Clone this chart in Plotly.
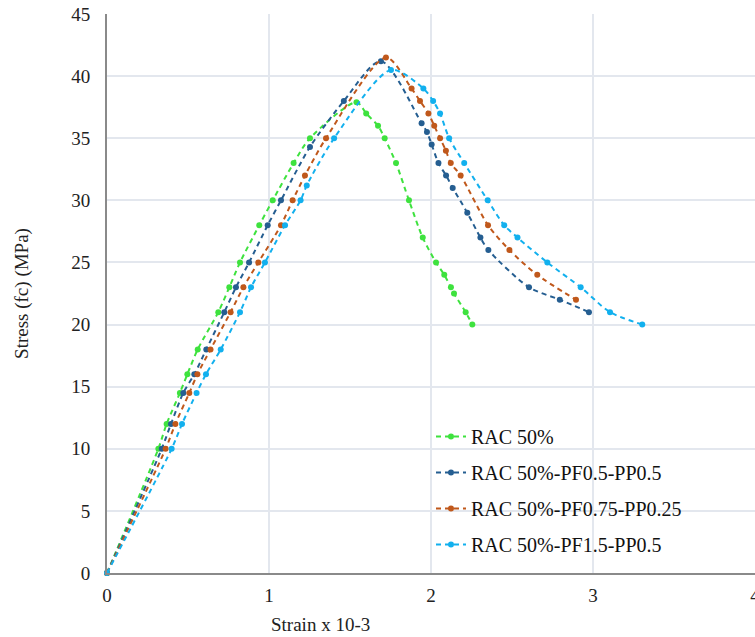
import plotly.graph_objects as go

# ---- data (strain x10^-3, stress MPa) ----
names = ["RAC 50%", "RAC 50%-PF0.5-PP0.5", "RAC 50%-PF0.75-PP0.25", "RAC 50%-PF1.5-PP0.5"]

strain_rac = [0, 0.317, 0.368, 0.45, 0.496, 0.56, 0.687, 0.755, 0.821, 0.94, 1.023, 1.152, 1.253,
              1.54, 1.60, 1.673, 1.714, 1.784, 1.864, 1.949, 2.031, 2.082, 2.123, 2.142, 2.214, 2.255]
stress_rac = [0, 10, 12, 14.5, 16, 18, 21, 23, 25, 28, 30, 33, 35,
              37.9, 37, 36, 35, 33, 30, 27, 25, 24, 23, 22.5, 21, 20]

strain_pf05 = [0, 0.338, 0.395, 0.471, 0.539, 0.613, 0.724, 0.796, 0.877, 0.992, 1.074, 1.253, 1.462,
               1.691, 1.942, 1.975, 2.004, 2.046, 2.093, 2.134, 2.224, 2.305, 2.354, 2.605, 2.795, 2.975]
stress_pf05 = [0, 10, 12, 14.5, 16, 18, 21, 23, 25, 28, 30, 34.3, 38,
               41.2, 36.2, 35.5, 34.5, 33, 32, 31, 29, 27, 26, 23, 22, 21]

strain_pf075 = [0, 0.362, 0.422, 0.508, 0.558, 0.639, 0.763, 0.842, 0.934, 1.074, 1.146, 1.222, 1.352,
                1.722, 1.88, 1.932, 1.984, 2.02, 2.056, 2.092, 2.122, 2.183, 2.352, 2.484, 2.656, 2.895]
stress_pf075 = [0, 10, 12, 14.5, 16, 18, 21, 23, 25, 28, 30, 32, 35,
                41.5, 39, 38, 37, 36, 35, 34, 33, 32, 28, 26, 24, 22]

strain_pf15 = [0, 0.399, 0.463, 0.553, 0.611, 0.702, 0.821, 0.889, 0.975, 1.099, 1.195, 1.233, 1.402,
               1.753, 1.953, 2.013, 2.056, 2.112, 2.205, 2.35, 2.452, 2.534, 2.718, 2.924, 3.105, 3.304]
stress_pf15 = [0, 10, 12, 14.5, 16, 18, 21, 23, 25, 28, 30, 31.2, 35,
               40.5, 39, 38, 37, 35, 33, 30, 28, 27, 25, 23, 21, 20]

colors = ["#3ee23e", "#255e91", "#c0581b", "#12b0ee"]

xs = [strain_rac, strain_pf05, strain_pf075, strain_pf15]
ys = [stress_rac, stress_pf05, stress_pf075, stress_pf15]

x_ticks = [0, 1, 2, 3, 4]
y_ticks = [0, 5, 10, 15, 20, 25, 30, 35, 40, 45]

font_family = "Liberation Serif, Times New Roman, serif"

fig = go.Figure()
for i in range(4):
    fig.add_trace(go.Scatter(
        x=xs[i], y=ys[i], name=names[i], mode="lines+markers",
        line=dict(color=colors[i], width=2, dash="5px,4px", shape="spline", smoothing=0.8),
        marker=dict(color=colors[i], size=6),
        cliponaxis=False, legendgroup=names[i],
    ))

fig.update_layout(
    width=755, height=637,
    margin=dict(l=107, r=0, t=14, b=64, autoexpand=False),
    plot_bgcolor="white", paper_bgcolor="white",
    font=dict(family=font_family, color="#222222", size=19),
    showlegend=True,
    legend=dict(x=0.5, y=0.279, xanchor="left", yanchor="top",
                bgcolor="rgba(0,0,0,0)", font=dict(size=20, color="#111111"),
                tracegroupgap=7, itemwidth=30),
    xaxis=dict(range=[0, 4], tickvals=x_ticks, showgrid=True, gridcolor="#e3e7ee", gridwidth=1.5,
               showline=True, linecolor="#8a8a8a", linewidth=2, zeroline=False, automargin=False,
               ticks="", ticklabelstandoff=4, ticklabeloverflow="allow", tickfont=dict(size=19)),
    yaxis=dict(range=[0, 45], tickvals=y_ticks, showgrid=True, gridcolor="#e3e7ee", gridwidth=1.5,
               showline=True, linecolor="#8a8a8a", linewidth=2, zeroline=False, automargin=False,
               ticks="", ticklabelstandoff=11, tickfont=dict(size=19),
               title=dict(text="Stress (fc) (MPa)", font=dict(size=19), standoff=38)),
    annotations=[dict(text="Strain x 10-3", xref="paper", yref="paper", x=0.33, y=-0.115,
                      xanchor="center", yanchor="bottom", showarrow=False, font=dict(size=19))],
)

fig.write_html("out.html")
